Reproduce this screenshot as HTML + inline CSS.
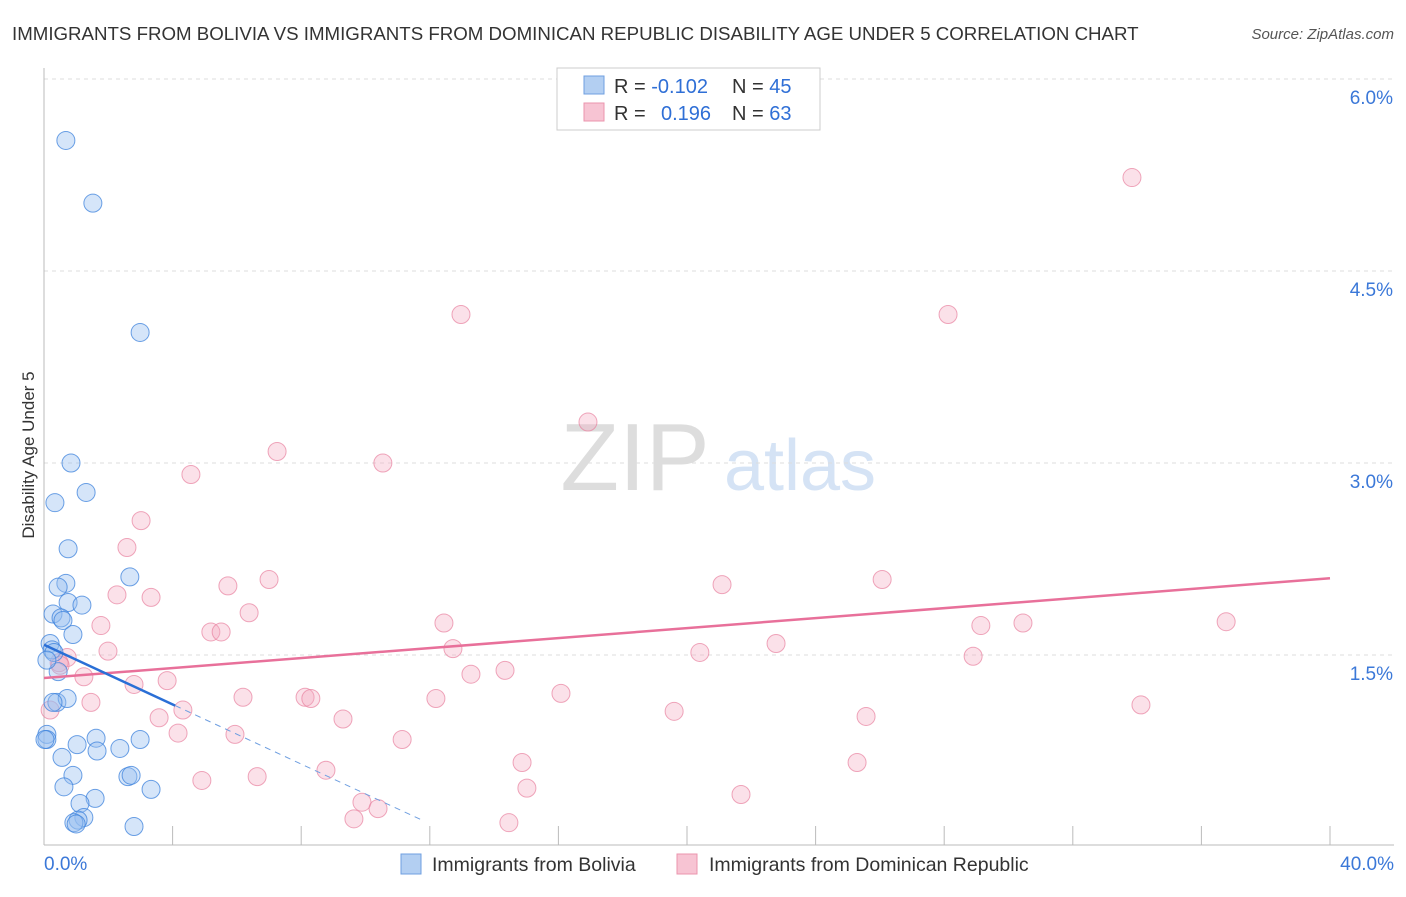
<!DOCTYPE html>
<html><head><meta charset="utf-8"><style>
body{margin:0;background:#fff;font-family:"Liberation Sans",sans-serif;}
svg text{font-family:"Liberation Sans",sans-serif;}
</style></head><body>
<svg id="chart" width="1406" height="892" xmlns="http://www.w3.org/2000/svg">
<text x="12" y="40" font-size="18.7" fill="#333">IMMIGRANTS FROM BOLIVIA VS IMMIGRANTS FROM DOMINICAN REPUBLIC DISABILITY AGE UNDER 5 CORRELATION CHART</text>
<text x="1394" y="39" font-size="15" fill="#555" text-anchor="end" font-style="italic">Source: ZipAtlas.com</text>
<text transform="translate(34,455) rotate(-90)" font-size="17" fill="#333" text-anchor="middle">Disability Age Under 5</text>
<g><text x="635" y="490" font-size="96" fill="#ddd" font-family="Liberation Serif" text-anchor="middle">ZIP</text><text x="800" y="490" font-size="72" fill="#d5e3f5" text-anchor="middle">atlas</text></g>
<g id="grid"></g><g id="axes"></g><g id="pts"></g><g id="lines"></g>
<g>
<rect x="557" y="68" width="263" height="62" fill="#fff" stroke="#ccc"/>
<rect x="584" y="76" width="20" height="18" fill="#b3cff2" stroke="#6f9fe0"/>
<rect x="584" y="103" width="20" height="18" fill="#f7c4d3" stroke="#eb94ae"/>
<text x="614" y="93" font-size="20" fill="#333">R = <tspan fill="#2f6fd6">-0.102</tspan><tspan x="732">N = </tspan><tspan fill="#2f6fd6">45</tspan></text>
<text x="614" y="120" font-size="20" fill="#333">R = <tspan x="661" fill="#2f6fd6">0.196</tspan><tspan x="732">N = </tspan><tspan fill="#2f6fd6">63</tspan></text>
</g>
<g>
<rect x="401" y="854" width="20" height="20" fill="#b3cff2" stroke="#6f9fe0"/>
<text x="432" y="871" font-size="19.5" fill="#333">Immigrants from Bolivia</text>
<rect x="677" y="854" width="20" height="20" fill="#f7c4d3" stroke="#eb94ae"/>
<text x="709" y="871" font-size="19.5" fill="#333">Immigrants from Dominican Republic</text>
</g>
</svg>
<script>
const yTicks=[1.5,3.0,4.5,6.0];
const xTickVals=[0,4,8,12,16,20,24,28,32,36,40];
const bolX=[0.68,1.52,2.99,0.84,1.31,0.34,0.75,2.67,0.68,0.44,0.75,1.18,0.28,0.53,0.59,0.90,0.19,0.25,0.31,0.44,0.40,0.72,0.28,0.09,0.09,1.62,1.03,2.36,1.65,2.99,0.56,0.90,2.61,2.71,0.62,3.33,1.59,1.12,1.24,1.06,0.93,1.00,2.80,0.03,0.09];
const bolY=[5.52,5.03,4.02,3.0,2.77,2.69,2.33,2.11,2.06,2.03,1.91,1.89,1.82,1.79,1.77,1.66,1.59,1.54,1.52,1.37,1.13,1.16,1.13,0.88,0.84,0.85,0.80,0.77,0.75,0.84,0.70,0.56,0.55,0.56,0.47,0.45,0.38,0.34,0.23,0.21,0.19,0.18,0.16,0.84,1.46];
const domX=[33.84,12.97,28.12,16.92,7.25,10.54,4.57,3.02,2.58,7.0,26.07,21.09,5.72,2.27,3.33,6.38,1.77,12.44,29.14,30.45,36.77,5.19,5.51,12.72,22.77,1.99,20.40,28.90,0.72,0.47,14.34,13.28,1.24,3.83,2.80,16.08,6.19,8.12,8.30,12.19,34.12,1.46,4.32,19.60,25.57,3.58,9.30,4.17,5.94,11.14,14.87,25.29,8.77,6.63,4.91,15.02,21.68,9.89,10.39,9.64,14.46,0.19,0.50];
const domY=[5.23,4.16,4.16,3.32,3.09,3.0,2.91,2.55,2.34,2.09,2.09,2.05,2.04,1.97,1.95,1.83,1.73,1.75,1.73,1.75,1.76,1.68,1.68,1.55,1.59,1.53,1.52,1.49,1.48,1.44,1.38,1.35,1.33,1.30,1.27,1.20,1.17,1.17,1.16,1.16,1.11,1.13,1.07,1.06,1.02,1.01,1.0,0.89,0.88,0.84,0.66,0.66,0.60,0.55,0.52,0.46,0.41,0.35,0.30,0.22,0.19,1.07,1.42];
const bolTrend=[1.58,-0.1165];
const domTrend=[1.32,0.0195];
const X=v=>44+v/40*1286, Y=v=>847-v*128;
const NS="http://www.w3.org/2000/svg";
function mk(p,t,a){const e=document.createElementNS(NS,t);for(const k in a)e.setAttribute(k,a[k]);p.appendChild(e);return e;}
const grid=document.getElementById('grid'),axes=document.getElementById('axes'),pts=document.getElementById('pts'),lines=document.getElementById('lines');
yTicks.forEach(v=>{const l=mk(grid,'line',{x1:44,x2:1394,y1:Y(v),y2:Y(v),stroke:'#ddd','stroke-dasharray':'4,4'});


const t=mk(grid,'text',{x:1393,y:Y(v)+25,'font-size':19,fill:'#3b78d8','text-anchor':'end'});t.textContent=v.toFixed(1)+'%';

});
const ya=mk(axes,'line',{x1:44,x2:44,y1:68,y2:845,stroke:'#bbb'});


const xa=mk(axes,'line',{x1:44,x2:1394,y1:845,y2:845,stroke:'#bbb'});


xTickVals.forEach(v=>{const l=mk(axes,'line',{x1:X(v),x2:X(v),y1:826,y2:845,stroke:'#bbb'});

});
[[0,'start',44],[40,'end',1394]].forEach(([v,a,x])=>{const t=mk(axes,'text',{x:x,y:870,'font-size':19,fill:'#3b78d8','text-anchor':a});t.textContent=v.toFixed(1)+'%';

});
domX.forEach((x,i)=>{const c=mk(pts,'circle',{cx:X(x),cy:Y(domY[i]),r:9,fill:'rgba(244,170,192,0.35)',stroke:'rgba(232,130,160,0.7)'});

});
bolX.forEach((x,i)=>{const c=mk(pts,'circle',{cx:X(x),cy:Y(bolY[i]),r:9,fill:'rgba(150,190,240,0.4)',stroke:'rgba(60,130,220,0.75)'});

});
const f=(t,x)=>t[0]+t[1]*x;
const d1=mk(lines,'line',{x1:X(0),y1:Y(f(domTrend,0)),x2:X(40),y2:Y(f(domTrend,40)),stroke:'#e8709a','stroke-width':2.5});


const b1=mk(lines,'line',{x1:X(0),y1:Y(f(bolTrend,0)),x2:X(4.08),y2:Y(f(bolTrend,4.08)),stroke:'#2a6fd6','stroke-width':2.5});


const b2=mk(lines,'line',{x1:X(4.08),y1:Y(f(bolTrend,4.08)),x2:X(11.7),y2:Y(f(bolTrend,11.7)),stroke:'#6f9fe0','stroke-width':1,'stroke-dasharray':'6,5'});


</script>
</body></html>
